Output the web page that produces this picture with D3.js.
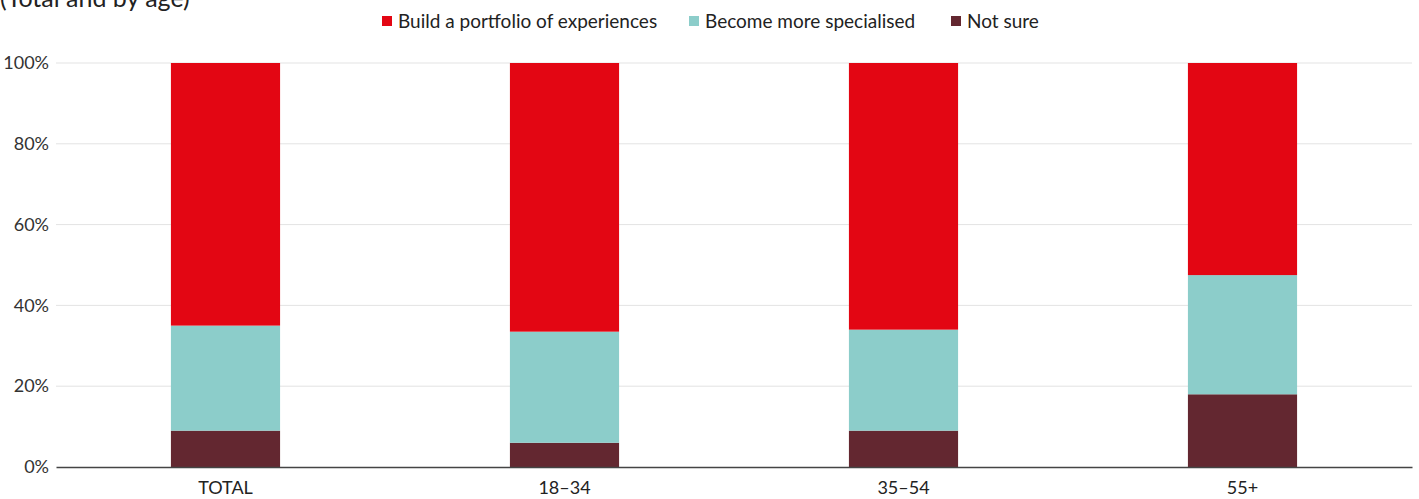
<!DOCTYPE html>
<html>
<head>
<meta charset="utf-8">
<script src="https://cdn.jsdelivr.net/npm/d3@7"></script>
<style>
  html, body { margin: 0; padding: 0; background: #fff; }
  svg { display: block; font-family: Lato, "Noto Sans", sans-serif; }
</style>
</head>
<body>
<div id="chart"></div>
<script>
const categories = ['TOTAL', '18–34', '35–54', '55+'];
const seriesNames = ['Not sure', 'Become more specialised', 'Build a portfolio of experiences'];
const notSure = [9, 6, 9, 18];
const specialised = [26, 27.5, 25, 29.5];
const portfolio = [65, 66.5, 66, 52.5];
const yTicks = [0, 20, 40, 60, 80, 100];
const legendOrder = ['Build a portfolio of experiences', 'Become more specialised', 'Not sure'];

const colors = {
    'Build a portfolio of experiences': '#e30613',
    'Become more specialised': '#8ccdca',
    'Not sure': '#632730'
};

const width = 1419, height = 499;
const margin = {top: 63, right: 7, bottom: 32, left: 56};

const svg = d3.select('#chart').append('svg')
    .attr('width', width)
    .attr('height', height);

// title, cut off at the top like the source
svg.append('text')
    .attr('x', 0)
    .attr('y', 7)
    .attr('font-size', 25)
    .attr('fill', '#222')
    .text('(Total and by age)');

const rows = categories.map((c, i) => ({
    cat: c,
    'Not sure': notSure[i],
    'Become more specialised': specialised[i],
    'Build a portfolio of experiences': portfolio[i]
}));

const stack = d3.stack().keys(seriesNames)(rows);

const x = d3.scaleBand()
    .domain(categories)
    .range([margin.left, width - margin.right])
    .paddingInner(0.678)
    .paddingOuter(0.339);

const y = d3.scaleLinear()
    .domain([0, 100])
    .range([height - margin.bottom, margin.top]);

// grid lines
svg.append('g')
    .selectAll('line')
    .data(yTicks.filter(d => d > 0))
    .join('line')
    .attr('x1', margin.left)
    .attr('x2', width - margin.right)
    .attr('y1', d => y(d))
    .attr('y2', d => y(d))
    .attr('stroke', '#e3e3e3')
    .attr('stroke-width', 1);

// y axis
const yAxis = svg.append('g')
    .attr('transform', `translate(${margin.left},0)`)
    .call(d3.axisLeft(y).tickValues(yTicks).tickFormat(d => d + '%').tickSize(0).tickPadding(7));
yAxis.select('.domain').remove();
yAxis.selectAll('text')
    .attr('font-size', 18)
    .attr('fill', '#333')
    .style('font-family', 'Lato, "Noto Sans", sans-serif');

// bars
svg.append('g')
    .selectAll('g')
    .data(stack)
    .join('g')
    .attr('fill', d => colors[d.key])
    .selectAll('rect')
    .data(d => d)
    .join('rect')
    .attr('x', d => x(d.data.cat))
    .attr('width', x.bandwidth())
    .attr('y', d => y(d[1]))
    .attr('height', d => y(d[0]) - y(d[1]));

// x axis
const xAxis = svg.append('g')
    .attr('transform', `translate(0,${y(0)})`)
    .call(d3.axisBottom(x).tickSize(0).tickPadding(14));
xAxis.select('.domain')
    .attr('stroke', '#444')
    .attr('stroke-width', 1.5);
xAxis.selectAll('text')
    .attr('font-size', 18)
    .attr('fill', '#222')
    .style('font-family', 'Lato, "Noto Sans", sans-serif');

// legend
const legendX = [382, 689, 951];
const legend = svg.append('g')
    .selectAll('g')
    .data(legendOrder)
    .join('g')
    .attr('transform', (d, i) => `translate(${legendX[i]},16)`);
legend.append('rect')
    .attr('width', 10)
    .attr('height', 10)
    .attr('fill', d => colors[d]);
legend.append('text')
    .attr('x', 16)
    .attr('y', 12)
    .attr('font-size', 19)
    .attr('fill', '#222')
    .text(d => d);
</script>
</body>
</html>
